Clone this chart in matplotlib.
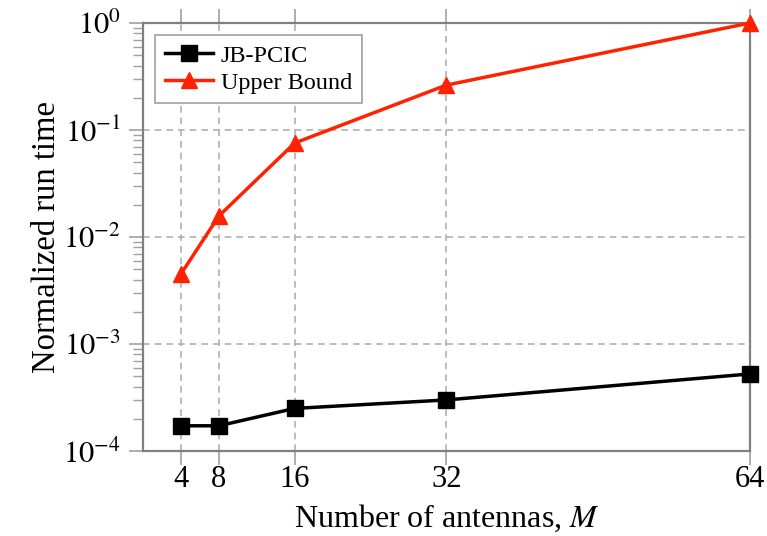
import numpy as np
import matplotlib
matplotlib.use('Agg')
from matplotlib import pyplot as plt

# run time per antenna count, normalized
antennas = [4, 8, 16, 32, 64]
jb_pcic = [1.72e-4, 1.72e-4, 2.5e-4, 3.0e-4, 5.25e-4]
upper_bound = [4.5e-3, 1.57e-2, 7.56e-2, 2.63e-1, 1.0]
tick_labels = ['4', '8', '16', '32', '64']
y_ticks = [1e-4, 1e-3, 1e-2, 1e-1, 1]
y_tick_labels = [r'$10^{-4}$', r'$10^{-3}$', r'$10^{-2}$', r'$10^{-1}$', r'$10^{0}$']

plt.rcParams['font.family'] = ['Liberation Serif', 'DejaVu Serif']
plt.rcParams['mathtext.fontset'] = 'stix'

fig = plt.figure(figsize=(7.67, 5.36), dpi=100)
ax = fig.add_axes([0.1864, 0.1586, 0.7914, 0.7985])

ax.plot(antennas, jb_pcic, color='black', lw=2.5, marker='s', ms=11,
        label='JB-PCIC', zorder=3, clip_on=False)
ax.plot(antennas, upper_bound, color='#ff2200', lw=2.5, marker='^', ms=11,
        label='Upper Bound', zorder=3, clip_on=False)

ax.set_yscale('log')
ax.set_xlim(0, 64)
ax.set_ylim(1e-4, 1)
ax.set_xticks(antennas)
ax.set_xticklabels(tick_labels)
ax.set_yticks(y_ticks)
ax.set_yticklabels(y_tick_labels)

ax.grid(True, which='major', ls=(0, (4, 3)), color='#b0b0b0', lw=1.2)
for s in ax.spines.values():
    s.set_color('#808080')
    s.set_linewidth(1.6)

ax.tick_params(axis='both', which='major', labelsize=22, color='#a0a0a0',
               width=1.2, length=10, direction='out')
ax.tick_params(axis='y', which='minor', color='#a0a0a0', width=1.0,
               length=7, direction='out')
ax.tick_params(axis='x', which='major', top=True, pad=0)
ax.tick_params(axis='y', which='major', pad=6)

ax.set_xlabel('Number of antennas, $M$', fontsize=23, labelpad=6)
ax.set_ylabel('Normalized run time', fontsize=23.5, labelpad=1)

leg = ax.legend(loc='upper left', fontsize=17.5, fancybox=False,
                framealpha=1, edgecolor='#a0a0a0', borderaxespad=0.5,
                handlelength=2.0, handletextpad=0.3, borderpad=0.4,
                labelspacing=0.2)
leg.get_frame().set_linewidth(1.2)

fig.savefig('out.png', dpi=100)
